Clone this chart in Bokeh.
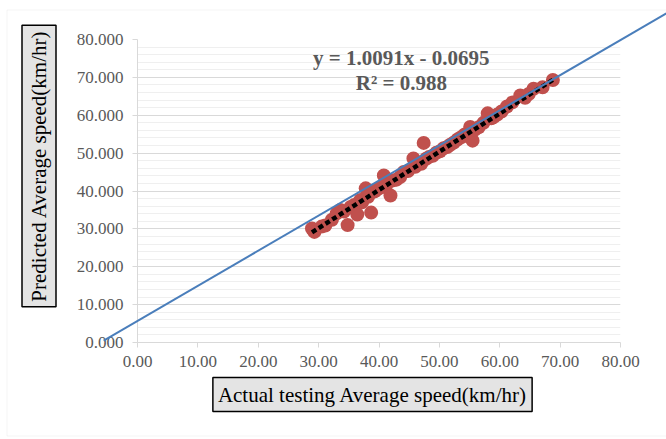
from bokeh.plotting import figure
from bokeh.layouts import column
from bokeh.models import (Range1d, SingleIntervalTicker, PrintfTickFormatter,
                          Label, BoxAnnotation)
from bokeh.embed import file_html
from bokeh.resources import INLINE
import math

# ---- data ----
actual = [28.9, 29.3, 30.5, 31.1, 32.2, 33.0, 33.6, 34.2, 34.8, 35.3, 35.9, 36.4, 36.9, 37.2,
          37.8, 38.2, 38.7, 39.3, 39.8, 40.4, 40.8, 41.2, 41.9, 42.3, 42.9, 43.5, 44.1, 44.8,
          45.7, 46.0, 46.5, 47.0, 47.4, 47.8, 48.3, 48.9, 49.5, 50.1, 50.7, 51.3, 51.8, 52.4,
          53.0, 53.6, 54.2, 55.1, 55.5, 55.9, 56.5, 57.3, 58.0, 58.6, 59.0, 59.6, 60.3, 61.2,
          62.1, 63.4, 64.2, 64.8, 65.6, 67.1, 68.8]
predicted = [30.1, 29.2, 30.6, 30.9, 32.4, 34.1, 35.0, 34.6, 31.0, 35.8, 36.3, 33.8, 37.6, 37.0,
             40.7, 38.5, 34.3, 39.9, 40.5, 41.0, 44.1, 41.6, 38.8, 42.8, 43.0, 43.7, 45.0, 45.3,
             48.6, 46.4, 47.3, 47.2, 52.7, 48.5, 49.0, 49.3, 50.1, 50.5, 51.3, 51.6, 52.2, 52.8,
             53.6, 54.2, 54.9, 56.9, 53.3, 56.2, 56.8, 58.0, 60.5, 59.2, 59.5, 60.2, 61.0, 62.3,
             63.4, 65.2, 64.6, 65.6, 67.0, 67.4, 69.3]
slope = 1.0091
intercept = -0.0695
eq_text = "y = 1.0091x - 0.0695"
r2_text = "R² = 0.988"
ref_x = [-5.6, 87.6]
ref_y = [0.5, 86.9]
x_title = "Actual testing Average speed(km/hr)"
y_title = "Predicted Average speed(km/hr)"

FONT = "Liberation Serif"
GRAY = "#595959"
W, H = 666, 439
FL, FR, FT, FB = 137, 620, 39, 342          # frame edges in canvas pixels
SX = (FR - FL) / 80.0
SY = (FB - FT) / 80.0

p = figure(width=W, height=H, output_backend="svg", toolbar_location=None,
           x_range=Range1d(0, 80), y_range=Range1d(0, 80),
           min_border_left=FL, min_border_right=W - FR, min_border_top=FT,
           min_border_bottom=H - FB)
p.frame_align = False
p.outline_line_color = None
p.background_fill_color = "white"
p.border_fill_color = "white"

p.xaxis.ticker = SingleIntervalTicker(interval=10, num_minor_ticks=0)
p.yaxis.ticker = SingleIntervalTicker(interval=10, num_minor_ticks=5)
p.xaxis.formatter = PrintfTickFormatter(format="%.2f")
p.yaxis.formatter = PrintfTickFormatter(format="%.3f")
for ax in (p.xaxis, p.yaxis):
    ax.axis_line_color = "#d9d9d9"
    ax.major_tick_line_color = "#d9d9d9"
    ax.major_tick_in = 0
    ax.major_tick_out = 5
    ax.minor_tick_line_color = None
    ax.major_label_text_font = FONT
    ax.major_label_text_font_size = "17px"
    ax.major_label_text_color = GRAY
p.xaxis.major_label_standoff = 8
p.yaxis.major_label_standoff = 9

p.xgrid.grid_line_color = None
p.ygrid.grid_line_color = "#d9d9d9"
p.ygrid.minor_grid_line_color = "#efefef"

p.scatter(actual, predicted, size=14, fill_color="#C0504D", line_color=None)

xmin, xmax = min(actual), max(actual)
p.line([xmin, xmax], [slope * xmin + intercept, slope * xmax + intercept],
       line_color="black", line_width=4.5, line_dash="5 3")

p.add_layout(Label(x=43.7, y=75.0, text=eq_text, text_font=FONT, text_font_style="bold",
                   text_font_size="21px", text_color=GRAY, text_align="center",
                   text_baseline="middle"))
p.add_layout(Label(x=43.7, y=68.4, text=r2_text, text_font=FONT, text_font_style="bold",
                   text_font_size="21px", text_color=GRAY, text_align="center",
                   text_baseline="middle"))

# ---- transparent overlay spanning the whole chart area ----
X0 = -FL / SX
X1 = (W - FL) / SX
Y0 = -(H - FB) / SY
Y1 = FB / SY
q = figure(width=W, height=H, output_backend="svg", toolbar_location=None,
           x_range=Range1d(X0, X1), y_range=Range1d(Y0, Y1),
           x_axis_location=None, y_axis_location=None, min_border=0)
q.frame_align = False
q.grid.grid_line_color = None
q.outline_line_color = None
q.background_fill_alpha = 0
q.border_fill_alpha = 0
q.styles = {"margin-top": f"-{H}px"}

def px2x(cx):
    return X0 + cx / SX

def px2y(cy):
    return Y1 - cy / SY

# chart border
q.add_layout(BoxAnnotation(left=px2x(6.5), right=px2x(700), top=px2y(9.5), bottom=px2y(435.5),
                           fill_alpha=0, line_color="#d9d9d9", line_width=1))

# blue reference line (extends past plot area)
q.line(ref_x, ref_y, line_color="#4a7ebb", line_width=2)

def boxed(x, y, text, angle, sdx, sdy):
    q.add_layout(Label(x=x + sdx, y=y + sdy, x_units="screen", y_units="screen", text=text,
                       angle=angle, text_font=FONT, text_font_size="21px", text_alpha=0,
                       text_align="center", text_baseline="middle",
                       background_fill_color="#8c8c8c", background_fill_alpha=0.35,
                       padding=5))
    q.add_layout(Label(x=x, y=y, x_units="screen", y_units="screen", text=text,
                       angle=angle, text_font=FONT, text_font_size="21px", text_color="black",
                       text_align="center", text_baseline="middle",
                       background_fill_color="#e4e4e4", border_line_color="black",
                       border_line_width=1.5, padding=5))

boxed(38.5, H - 165.5, y_title, math.pi / 2, 3, -4)
boxed(372, H - 394, x_title, 0, 3, -4)

layout = column(p, q, spacing=0)
open("out.html", "w").write(file_html(layout, INLINE))
